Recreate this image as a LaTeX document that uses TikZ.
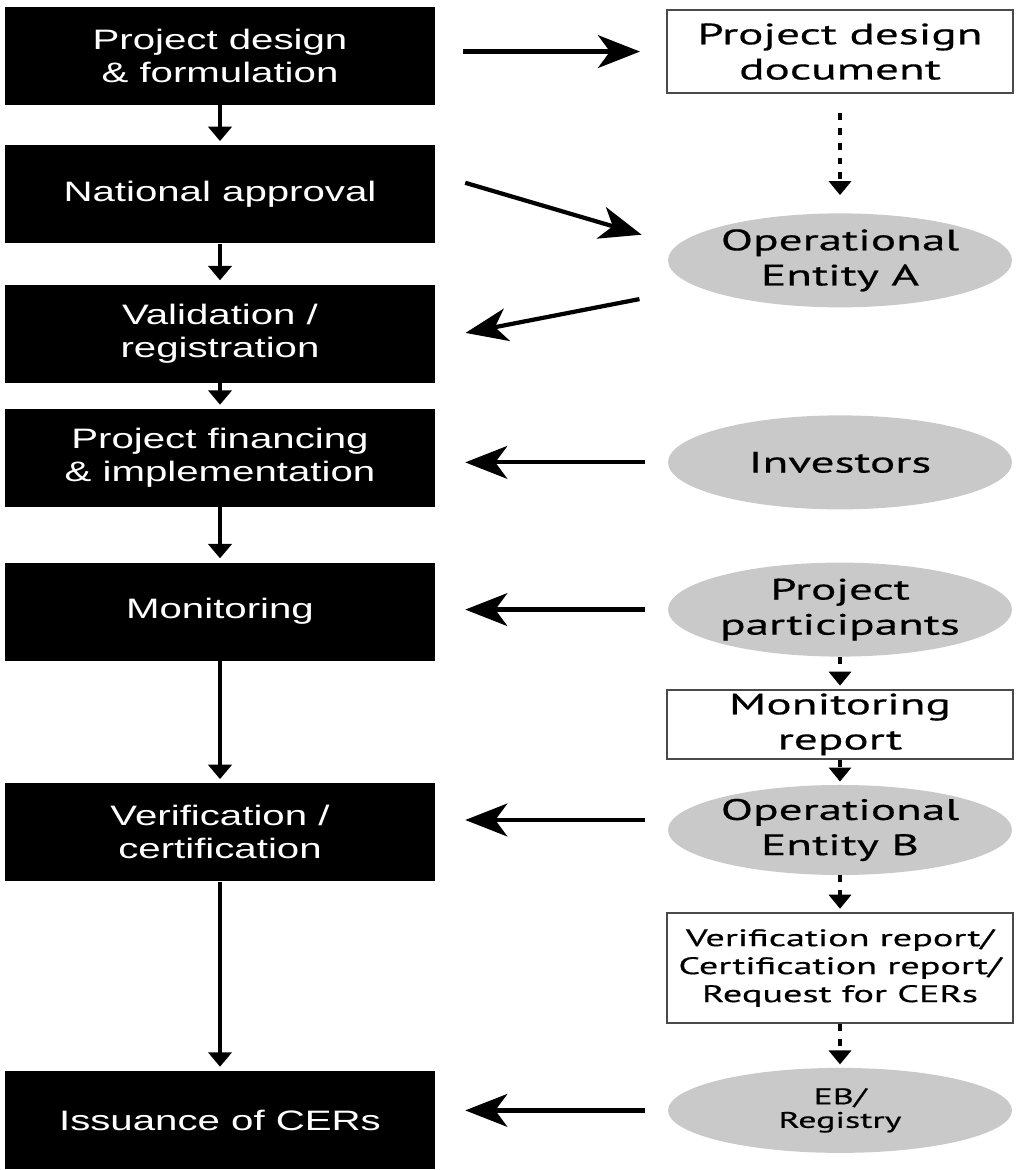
\documentclass[tikz,border=0pt]{standalone}
\usepackage{fontspec}
\newfontfamily\stagefont[FakeStretch=1.43]{Liberation Sans}
\newfontfamily\actorfont[FakeStretch=1.6, FakeBold=0.5]{PT Sans}
\usetikzlibrary{arrows.meta, shapes.geometric}

\begin{document}
\begin{tikzpicture}

% ---------------------------------------------------------------- colours
\definecolor{stageblack}{HTML}{000000}   % the project cycle, left column
\definecolor{actorgrey}{HTML}{C9C9C9}    % the parties involved
\definecolor{framegrey}{HTML}{4A4A4A}    % outline of the documents

% ---------------------------------------------------------------- styles
\tikzset{
    stage/.style={
        rectangle, fill=stageblack, minimum width=10.75cm,
        minimum height=2.45cm, inner sep=0pt, align=center,
        text=white, font=\stagefont\fontsize{20}{23.4}\selectfont,
    },
    paper/.style={
        rectangle, draw=framegrey, line width=1.5pt, fill=white,
        minimum width=8.65cm, inner sep=0pt, align=center,
        font=\actorfont\fontsize{21}{25}\selectfont,
    },
    actor/.style={
        ellipse, fill=actorgrey, minimum width=8.6cm,
        minimum height=2.35cm, inner sep=0pt, align=center,
        font=\actorfont\fontsize{21}{25}\selectfont,
    },
    flow/.style={-{Triangle[width=0.58cm, length=0.36cm]}, line width=3pt},
    link/.style={-{Stealth[length=1.05cm, width=0.82cm, inset=0.3cm]},
        line width=3pt},
    trace/.style={-{Triangle[width=0.55cm, length=0.35cm]}, line width=3pt,
        dash pattern=on 0.17cm off 0.2cm},
}

\useasboundingbox (0, 0) rectangle (25.4, 29.25);

% ================================================================
% GEOMETRY
%   project cycle   x in [0.1, 10.9]
%   documents and parties centred on x = 21.0
% ================================================================

% ---------------------------------------------------------------- cycle
\node[stage] (design)       at (5.5, 27.85) {Project design\\\& formulation};
\node[stage] (approval)     at (5.5, 24.39) {National approval};
\node[stage] (validation)   at (5.5, 20.91) {Validation /\\registration};
\node[stage] (financing)    at (5.5, 17.80) {Project financing\\\& implementation};
\node[stage] (monitoring)   at (5.5, 13.96) {Monitoring};
\node[stage] (verification) at (5.5,  8.44) {Verification /\\certification};
\node[stage] (issuance)     at (5.5,  1.25) {Issuance of CERs};

\foreach \i/\j in {design/approval, approval/validation,
        validation/financing, financing/monitoring,
        monitoring/verification, verification/issuance} {
    \draw[flow, shorten >=0.1cm] (\i) -- (\j);
}

% ---------------------------------------------------------------- parties
\node[paper, minimum height=2.075cm] (pdd) at (21.0, 27.96)
    {Project design\\document};
\node[actor] (entityA) at (21.0, 22.74) {Operational\\Entity A};
\node[actor] (investors) at (21.0, 17.69) {Investors};
\node[actor] (participants) at (21.0, 14.01) {Project\\participants};
\node[paper, minimum height=1.725cm] (monreport) at (21.0, 11.14)
    {Monitoring\\report};
\node[actor, minimum height=2.25cm] (entityB) at (21.0, 8.5)
    {Operational\\Entity B};
\node[paper, minimum height=2.75cm,
      font=\actorfont\fontsize{17}{19.9}\selectfont] (verreport) at (21.0, 5.05)
    {Verification report/\\Certification report/\\Request for CERs};
\node[actor, minimum height=2.125cm,
      font=\actorfont\fontsize{16}{16.8}\selectfont] (registry) at (21.0, 1.49)
    {EB/\\Registry};

\draw[trace, shorten <=0.475cm, shorten >=0.45cm] (pdd) -- (entityA);
\foreach \i/\j in {participants/monreport, monreport/entityB,
        entityB/verreport, verreport/registry} {
    \draw[trace, shorten >=0.08cm] (\i) -- (\j);
}

% ---------------------------------------------------------------- exchanges
\draw[link, shorten <=0.7cm, shorten >=0.65cm]
    (design.east |- pdd.west) -- (pdd.west);
\draw[link, shorten <=0.78cm, shorten >=0.68cm]
    ([yshift=0.51cm]approval.east) -- ([yshift=0.45cm]entityA.west);
\draw[link, shorten <=0.72cm, shorten >=0.77cm]
    ([yshift=-0.83cm]entityA.west) -- ([yshift=-0.13cm]validation.east);

\foreach \i/\j in {investors/financing, participants/monitoring,
        registry/issuance} {
    \draw[link, shorten <=0.575cm, shorten >=0.75cm]
        (\i.west) -- (\i.west -| \j.east);
}
\draw[link, shorten <=0.575cm, shorten >=0.75cm]
    ([yshift=0.25cm]entityB.west) -- ([yshift=0.25cm]entityB.west -| verification.east);

\end{tikzpicture}
\end{document}
